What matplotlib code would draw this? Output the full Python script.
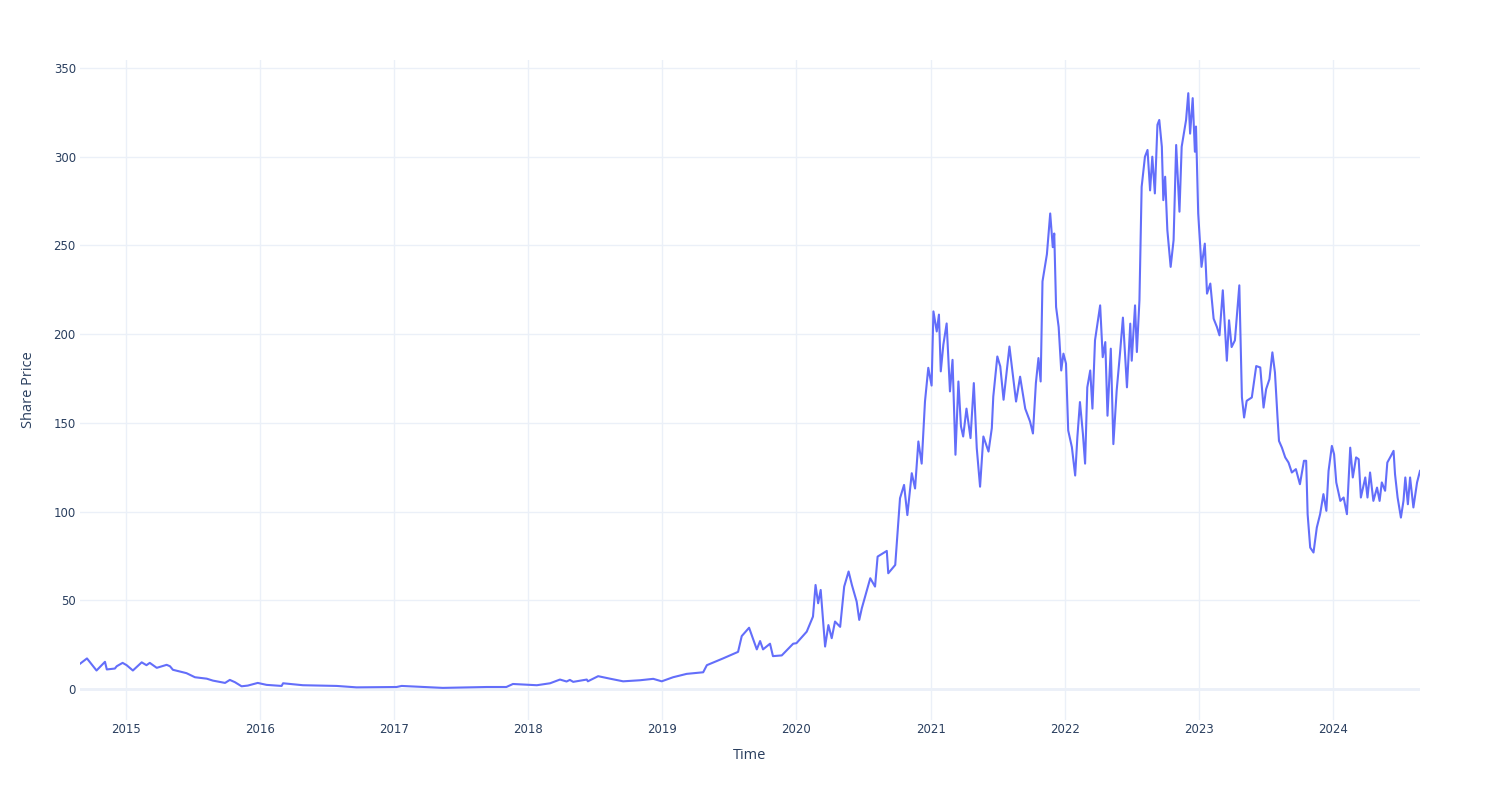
import pandas as pd
import matplotlib
matplotlib.use('Agg')
import matplotlib.pyplot as plt
import matplotlib.dates as mdates

# share price readings (date, close) taken off the reference chart
dates = [
    '2014-08-29', '2014-09-17', '2014-10-13', '2014-11-05', '2014-11-10', '2014-12-02',
    '2014-12-07', '2014-12-23', '2015-01-03', '2015-01-20', '2015-02-13', '2015-02-26',
    '2015-03-07', '2015-03-26', '2015-04-22', '2015-05-01', '2015-05-09', '2015-06-15',
    '2015-07-08', '2015-08-09', '2015-08-26', '2015-09-28', '2015-10-11', '2015-10-25',
    '2015-11-12', '2015-11-29', '2015-12-26', '2016-01-19', '2016-02-29', '2016-03-04',
    '2016-04-27', '2016-07-28', '2016-09-20', '2017-01-07', '2017-01-21', '2017-03-03',
    '2017-05-13', '2017-09-10', '2017-11-02', '2017-11-20', '2018-01-24', '2018-03-01',
    '2018-03-28', '2018-04-15', '2018-04-24', '2018-05-03', '2018-06-09', '2018-06-12',
    '2018-07-10', '2018-08-11', '2018-09-16', '2018-11-01', '2018-12-07', '2018-12-30',
    '2019-01-30', '2019-03-08', '2019-04-22', '2019-05-02', '2019-06-15', '2019-07-26',
    '2019-08-05', '2019-08-25', '2019-09-15', '2019-09-24', '2019-10-02', '2019-10-21',
    '2019-10-29', '2019-11-22', '2019-12-23', '2020-01-01', '2020-01-29', '2020-02-15',
    '2020-02-22', '2020-02-29', '2020-03-07', '2020-03-19', '2020-03-28', '2020-04-06',
    '2020-04-15', '2020-04-29', '2020-05-10', '2020-05-22', '2020-05-31', '2020-06-13',
    '2020-06-20', '2020-06-27', '2020-07-20', '2020-08-02', '2020-08-09', '2020-09-03',
    '2020-09-07', '2020-09-26', '2020-10-09', '2020-10-20', '2020-10-29', '2020-11-10',
    '2020-11-19', '2020-11-28', '2020-12-07', '2020-12-16', '2020-12-25', '2021-01-03',
    '2021-01-08', '2021-01-17', '2021-01-23', '2021-01-28', '2021-02-04', '2021-02-13',
    '2021-02-22', '2021-03-01', '2021-03-09', '2021-03-17', '2021-03-24', '2021-03-30',
    '2021-04-08', '2021-04-19', '2021-04-28', '2021-05-06', '2021-05-15', '2021-05-24',
    '2021-06-07', '2021-06-16', '2021-06-20', '2021-07-01', '2021-07-09', '2021-07-18',
    '2021-08-03', '2021-08-10', '2021-08-21', '2021-09-01', '2021-09-15', '2021-09-28',
    '2021-10-06', '2021-10-14', '2021-10-21', '2021-10-27', '2021-11-01', '2021-11-13',
    '2021-11-22', '2021-11-29', '2021-12-03', '2021-12-08', '2021-12-15', '2021-12-22',
    '2021-12-28', '2022-01-04', '2022-01-10', '2022-01-20', '2022-01-29', '2022-02-04',
    '2022-02-11', '2022-02-19', '2022-02-25', '2022-03-03', '2022-03-11', '2022-03-17',
    '2022-03-24', '2022-04-07', '2022-04-14', '2022-04-21', '2022-04-27', '2022-05-06',
    '2022-05-13', '2022-05-22', '2022-05-31', '2022-06-08', '2022-06-19', '2022-06-28',
    '2022-07-02', '2022-07-11', '2022-07-16', '2022-07-23', '2022-07-29', '2022-08-07',
    '2022-08-14', '2022-08-21', '2022-08-27', '2022-09-03', '2022-09-10', '2022-09-15',
    '2022-09-22', '2022-09-26', '2022-10-01', '2022-10-07', '2022-10-16', '2022-10-24',
    '2022-10-31', '2022-11-09', '2022-11-15', '2022-11-21', '2022-11-27', '2022-12-03',
    '2022-12-08', '2022-12-15', '2022-12-21', '2022-12-24', '2022-12-30', '2023-01-08',
    '2023-01-17', '2023-01-23', '2023-02-01', '2023-02-10', '2023-02-19', '2023-02-26',
    '2023-03-07', '2023-03-18', '2023-03-24', '2023-03-31', '2023-04-09', '2023-04-21',
    '2023-04-28', '2023-05-04', '2023-05-11', '2023-05-25', '2023-06-06', '2023-06-17',
    '2023-06-26', '2023-07-03', '2023-07-12', '2023-07-20', '2023-07-27', '2023-08-03',
    '2023-08-07', '2023-08-15', '2023-08-24', '2023-09-02', '2023-09-11', '2023-09-22',
    '2023-10-03', '2023-10-14', '2023-10-20', '2023-10-24', '2023-10-31', '2023-11-09',
    '2023-11-18', '2023-11-27', '2023-12-06', '2023-12-14', '2023-12-20', '2023-12-29',
    '2024-01-04', '2024-01-10', '2024-01-21', '2024-01-30', '2024-02-08', '2024-02-17',
    '2024-02-24', '2024-03-04', '2024-03-11', '2024-03-17', '2024-03-29', '2024-04-04',
    '2024-04-11', '2024-04-20', '2024-04-30', '2024-05-07', '2024-05-13', '2024-05-22',
    '2024-05-28', '2024-06-07', '2024-06-14', '2024-06-18', '2024-06-25', '2024-07-04',
    '2024-07-11', '2024-07-16', '2024-07-23', '2024-07-29', '2024-08-07', '2024-08-17',
    '2024-08-25',
]
prices = [
    14.2, 17.2, 10.4, 15.3, 11.0, 11.5,
    12.8, 14.7, 13.4, 10.4, 15.0, 13.4,
    14.7, 11.9, 13.6, 12.8, 10.8, 8.9,
    6.6, 5.8, 4.7, 3.4, 5.1, 3.8,
    1.5, 1.9, 3.4, 2.3, 1.7, 3.2,
    2.1, 1.7, 0.9, 1.1, 1.7, 1.3,
    0.6, 1.1, 1.1, 2.8, 2.1, 3.2,
    5.3, 4.2, 5.1, 4.0, 5.3, 4.3,
    7.2, 5.8, 4.3, 4.9, 5.7, 4.3,
    6.6, 8.5, 9.4, 13.4, 17.2, 20.9,
    29.8, 34.5, 22.3, 27.0, 22.3, 25.5,
    18.5, 18.9, 25.5, 25.8, 32.3, 40.8,
    58.6, 48.3, 55.8, 23.9, 36.0, 28.6,
    38.0, 35.0, 57.7, 66.2, 58.6, 49.2,
    38.9, 45.5, 62.4, 57.7, 74.6, 77.8,
    65.2, 69.9, 107.5, 115.0, 98.0, 121.6,
    113.0, 139.5, 127.0, 162.0, 181.0, 171.0,
    212.8, 201.5, 211.0, 179.0, 194.0, 206.0,
    167.7, 185.5, 132.0, 173.3, 148.0, 142.3,
    158.0, 141.4, 172.4, 135.7, 114.0, 142.3,
    133.8, 147.0, 164.8, 187.4, 181.8, 163.0,
    193.0, 180.8, 162.0, 176.0, 158.0, 150.8,
    144.0, 172.4, 186.5, 173.3, 229.7, 245.0,
    268.0, 249.0, 256.7, 215.3, 204.0, 179.5,
    189.0, 183.4, 145.7, 136.3, 120.3, 142.0,
    161.7, 143.9, 127.0, 170.0, 179.5, 158.0,
    196.5, 216.2, 187.0, 195.5, 154.0, 191.8,
    138.0, 168.2, 189.0, 209.3, 170.0, 205.9,
    185.0, 216.2, 189.9, 219.0, 283.0, 300.0,
    303.8, 281.0, 300.0, 279.3, 318.0, 320.7,
    305.6, 275.5, 288.7, 258.6, 237.9, 253.0,
    306.6, 269.0, 305.6, 313.0, 320.7, 335.8,
    313.0, 333.0, 302.8, 317.0, 268.0, 237.9,
    251.0, 222.8, 228.5, 208.7, 204.0, 199.3,
    224.7, 185.0, 207.8, 192.7, 196.5, 227.5,
    164.5, 153.0, 162.4, 164.3, 182.0, 181.2,
    158.6, 169.0, 174.6, 189.7, 178.4, 153.0,
    139.8, 136.0, 130.5, 127.6, 122.0, 123.9,
    115.4, 128.6, 128.6, 98.5, 79.7, 76.9,
    91.0, 98.5, 109.8, 100.4, 122.9, 137.0,
    132.3, 116.4, 106.0, 107.9, 98.5, 136.0,
    119.2, 130.5, 129.5, 107.9, 119.2, 107.9,
    122.0, 106.0, 113.5, 106.0, 116.4, 111.7,
    127.6, 131.4, 134.2, 121.0, 107.9, 96.6,
    106.0, 119.2, 104.1, 119.2, 102.3, 116.4,
    122.9,
]
year_ticks = ['2015', '2016', '2017', '2018', '2019', '2020', '2021', '2022', '2023', '2024']
price_ticks = [0, 50, 100, 150, 200, 250, 300, 350]

df = pd.DataFrame({'Date': pd.to_datetime(dates), 'Close': prices})

grid_col = '#ebf0f8'
text_col = '#2a3f5f'

fig = plt.figure(figsize=(15, 8), dpi=100)
ax = fig.add_axes([80 / 1500, 80 / 800, 1340 / 1500, 660 / 800])

ax.plot(df['Date'], df['Close'], color='#636efa', linewidth=1.5, zorder=3)

ax.set_xlim(df['Date'].iloc[0], df['Date'].iloc[-1])
ax.set_ylim(-17.5, 354.5)

ax.set_xticks(pd.to_datetime([y + '-01-01' for y in year_ticks]))
ax.xaxis.set_major_formatter(mdates.DateFormatter('%Y'))
ax.set_yticks(price_ticks)

ax.grid(True, color=grid_col, linewidth=1, zorder=0)
ax.axhline(0, color=grid_col, linewidth=2, zorder=1)
for s in ax.spines.values():
    s.set_visible(False)
ax.tick_params(length=0, colors=text_col, labelsize=8.5)
ax.tick_params(axis='x', pad=2)
ax.tick_params(axis='y', pad=3)
for lbl in ax.get_xticklabels() + ax.get_yticklabels():
    lbl.set_fontfamily('DejaVu Sans')

ax.set_xlabel('Time', fontsize=10.5, color=text_col, family='Open Sans', labelpad=9)
ax.set_ylabel('Share Price', fontsize=10.5, color=text_col, family='Open Sans', labelpad=12.5)

fig.savefig('out.png', dpi=100, facecolor='white')
